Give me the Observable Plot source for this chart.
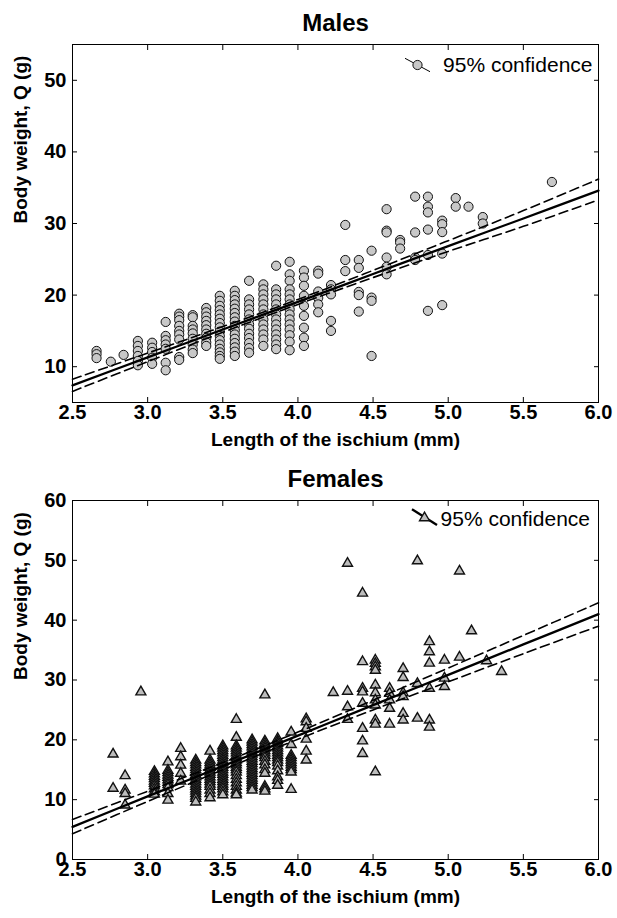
<!DOCTYPE html>
<html><head><meta charset="utf-8">
<script src="https://cdn.jsdelivr.net/npm/d3@7"></script>
<script src="https://cdn.jsdelivr.net/npm/@observablehq/plot@0.6"></script>
<style>
body{margin:0;background:#fff;width:617px;}
svg{display:block}
</style>
</head><body>
<div id="males"></div><div id="females"></div>
<script>
// ---------- data ----------
const xTicks = [2.5, 3.0, 3.5, 4.0, 4.5, 5.0, 5.5, 6.0];
const maleYTicks = [10, 20, 30, 40, 50];
const femaleYTicks = [0, 10, 20, 30, 40, 50, 60];
const maleYDomain = [5, 55];
const femaleYDomain = [0, 60];

// Males: ischium length columns and body weights at each
const maleLength = [2.66, 2.755, 2.84, 2.935, 3.03, 3.12, 3.21, 3.30, 3.39, 3.48, 3.58, 3.675, 3.77, 3.855, 3.945, 4.04, 4.135, 4.22, 4.315, 4.405, 4.49, 4.59, 4.68, 4.78, 4.865, 4.96, 5.05, 5.135, 5.23, 5.69];
const maleWeight = [
  [12.2, 11.75, 11.2],
  [10.7],
  [11.65],
  [13.6, 12.9, 12.2, 11.5, 10.8, 10.2],
  [13.35, 12.65, 12.05, 11.25, 10.4],
  [16.25, 14.3, 13.7, 13.1, 12.5, 10.55, 9.5],
  [17.4, 17.0, 16.5, 15.7, 15.0, 14.5, 13.8, 11.35, 10.95],
  [17.2, 16.9, 15.7, 15.2, 14.65, 13.9, 13.1, 12.4, 11.9],
  [18.2, 17.6, 17.0, 16.4, 15.8, 15.2, 14.6, 14.0, 13.4, 12.9],
  [19.9, 19.2, 18.5, 17.9, 17.3, 16.7, 16.1, 15.5, 14.9, 14.3, 13.7, 13.1, 12.5, 12.0, 11.5, 11.1],
  [20.6, 19.9, 19.3, 18.7, 18.1, 17.5, 16.9, 16.3, 15.7, 15.1, 14.5, 13.9, 13.3, 12.7, 12.1, 11.5],
  [22.0, 19.4, 18.7, 18.0, 17.3, 16.6, 15.9, 15.3, 14.6, 14.0, 13.3, 12.6, 11.95],
  [21.5, 20.8, 20.1, 19.4, 18.7, 18.0, 17.3, 16.6, 15.9, 15.2, 14.5, 13.8, 12.9],
  [24.1, 20.8, 20.1, 19.4, 18.7, 18.0, 17.3, 16.6, 15.9, 15.2, 14.5, 13.8, 13.1, 12.45],
  [24.65, 22.9, 22.0, 20.8, 20.1, 19.4, 18.7, 18.0, 17.3, 16.6, 15.9, 15.2, 14.4, 13.5, 12.3],
  [23.4, 22.45, 21.3, 19.9, 18.5, 17.1, 15.45, 14.05, 12.9],
  [23.4, 23.0, 20.5, 19.6, 18.7, 17.6],
  [21.4, 20.8, 20.1, 16.4, 15.0],
  [29.8, 24.9, 23.35],
  [24.9, 23.8, 20.45, 20.0, 17.7],
  [26.2, 19.65, 19.2, 11.5],
  [32.0, 29.0, 28.75, 25.25, 23.95, 22.9],
  [27.7, 27.35, 26.5],
  [33.75, 28.75, 25.25, 24.9],
  [33.75, 32.35, 31.55, 29.15, 25.6, 17.8],
  [30.4, 29.9, 28.8, 25.8, 18.6],
  [33.55, 32.35],
  [32.35],
  [30.9, 30.0],
  [35.8]
];

// Females
const femaleLength = [2.77, 2.85, 2.955, 3.045, 3.135, 3.22, 3.32, 3.415, 3.50, 3.59, 3.695, 3.78, 3.865, 3.955, 4.055, 4.235, 4.33, 4.43, 4.515, 4.61, 4.70, 4.795, 4.875, 4.975, 5.075, 5.155, 5.255, 5.355];
const femaleWeight = [
  [17.6, 11.9],
  [14.0, 11.6, 11.0, 9.1],
  [28.0],
  [14.7, 14.3, 13.9, 13.5, 13.1, 12.7, 12.3, 11.8, 11.3, 10.9],
  [16.3, 14.9, 14.5, 14.1, 13.7, 13.3, 12.9, 12.5, 12.0, 11.0, 9.9],
  [18.55, 17.15, 15.75, 14.4, 13.1],
  [16.6, 16.2, 15.8, 15.4, 15.0, 14.6, 14.2, 13.8, 13.4, 13.0, 12.6, 12.2, 11.8, 11.4, 11.0, 10.6, 10.2, 9.6],
  [18.1, 16.6, 16.2, 15.8, 15.4, 15.0, 14.6, 14.2, 13.8, 13.4, 13.0, 12.6, 12.2, 11.6, 11.0, 10.3],
  [19.0, 18.6, 18.2, 17.8, 17.4, 17.0, 16.6, 16.2, 15.8, 15.4, 15.0, 14.6, 14.2, 13.8, 13.4, 13.0, 12.6, 12.2, 11.8, 11.3, 10.8],
  [23.4, 20.4, 19.0, 18.6, 18.2, 17.8, 17.4, 17.0, 16.6, 16.2, 15.8, 15.4, 15.0, 14.6, 14.0, 13.4, 12.8, 12.2, 11.6, 11.1, 10.8],
  [20.0, 19.6, 19.2, 18.8, 18.4, 18.0, 17.6, 17.2, 16.8, 16.4, 16.0, 15.6, 15.2, 14.8, 14.4, 14.0, 13.6, 13.2, 12.8, 12.4, 12.0, 11.6],
  [27.5, 19.8, 19.4, 19.0, 18.6, 18.2, 17.8, 17.4, 17.0, 16.4, 15.8, 15.0, 14.4, 12.2, 11.8, 11.4],
  [20.2, 19.8, 19.4, 19.0, 18.6, 18.2, 17.8, 17.4, 17.0, 16.6, 16.2, 15.6, 14.8, 13.8, 13.2, 12.4],
  [21.3, 19.2, 17.4, 17.0, 16.6, 16.2, 15.8, 15.4, 15.0, 14.6, 11.7],
  [23.5, 23.0, 21.9, 20.1, 18.1, 16.6],
  [27.9],
  [49.5, 28.1, 25.5, 23.4],
  [44.5, 33.05, 28.6, 28.0, 26.1, 21.9, 19.8, 17.7],
  [33.3, 32.75, 32.2, 31.6, 29.15, 27.85, 26.65, 25.8, 23.3, 22.6, 14.65],
  [28.6, 27.75, 26.65, 25.25, 22.6],
  [31.9, 30.4, 27.85, 27.2, 24.4, 23.3],
  [49.9, 29.4, 23.6],
  [36.4, 34.7, 32.8, 28.6, 23.3, 22.1],
  [33.3, 30.3, 28.9],
  [48.2, 33.8],
  [38.2],
  [33.2],
  [31.4]
];

// Regression line and 95% confidence limits, read at these lengths
const fitLength = [2.5, 3.0, 3.5, 4.0, 4.5, 5.0, 5.5, 6.0];
const maleFit   = [7.4, 11.3, 15.2, 19.05, 22.95, 26.85, 30.7, 34.6];
const maleUpper = [8.25, 11.9, 15.6, 19.4, 23.45, 27.6, 31.8, 36.2];
const maleLower = [6.55, 10.7, 14.8, 18.7, 22.45, 26.1, 29.6, 33.3];
const femaleFit   = [5.45, 10.55, 15.6, 20.7, 25.8, 30.85, 35.95, 41.0];
const femaleUpper = [6.7, 11.4, 16.2, 21.3, 26.6, 32.0, 37.45, 42.9];
const femaleLower = [4.3, 9.7, 15.0, 20.1, 25.0, 29.7, 34.4, 39.0];

const xLabel = "Length of the ischium (mm)";
const yLabel = "Body weight, Q (g)";
const legendLabel = "95% confidence";

// ---------- drawing ----------
const font = "'Liberation Sans', Arial, Helvetica, sans-serif";
const flat = (xs, ys) => xs.flatMap((x, i) => ys[i].map(y => ({x, y})));
const series = (ys) => fitLength.map((x, i) => ({x, y: ys[i]}));

function slash(x0, y0, x1, y1) {
  return {draw(ctx) { ctx.moveTo(x0, y0); ctx.lineTo(x1, y1); }};
}

function panel(o) {
  return Plot.plot({
    width: 617, height: 459,
    marginTop: o.marginTop, marginBottom: o.marginBottom, marginLeft: 72, marginRight: 19,
    style: {fontFamily: font, background: "white", color: "black", overflow: "visible"},
    x: {domain: [2.5, 6.0]},
    y: {domain: o.yDomain},
    marks: [
      Plot.dot(o.points, {x: "x", y: "y", symbol: o.symbol, r: o.r, fill: o.fill, stroke: "#111", strokeWidth: o.sw}),
      Plot.line(series(o.fit), {x: "x", y: "y", stroke: "black", strokeWidth: 2.3, curve: "catmull-rom"}),
      Plot.line(series(o.up), {x: "x", y: "y", stroke: "black", strokeWidth: 1.6, strokeDasharray: "9,5", curve: "catmull-rom"}),
      Plot.line(series(o.lo), {x: "x", y: "y", stroke: "black", strokeWidth: 1.6, strokeDasharray: "9,5", curve: "catmull-rom"}),
      Plot.frame({stroke: "black", strokeWidth: 1}),
      Plot.axisX({ticks: xTicks, tickSize: -5, tickPadding: 7, tickFormat: d3.format(".1f"), fontSize: 20, fontWeight: "bold", label: null}),
      Plot.axisX({anchor: "top", ticks: xTicks, tickSize: -5, tickFormat: () => "", label: null}),
      Plot.axisY({ticks: o.yTicks, tickSize: -5, tickPadding: 11, fontSize: 20, fontWeight: "bold", label: null}),
      Plot.axisY({anchor: "right", ticks: o.yTicks, tickSize: -5, tickFormat: () => "", label: null}),
      Plot.text([o.title], {text: d => d, frameAnchor: "top", dy: -21, lineAnchor: "middle", fontSize: 24, fontWeight: "bold"}),
      Plot.text([xLabel], {text: d => d, frameAnchor: "bottom", dy: 37, lineAnchor: "middle", fontSize: 19, fontWeight: "bold"}),
      Plot.text([yLabel], {text: d => d, frameAnchor: "left", dx: -52, rotate: -90, lineAnchor: "middle", fontSize: 19, fontWeight: "bold"}),
      Plot.dot([0], {frameAnchor: "top-right", dx: o.legDx, dy: o.legDy, symbol: o.legLine, stroke: "black", strokeWidth: o.legWidth, fill: "none"}),
      Plot.dot([0], {frameAnchor: "top-right", dx: o.legDx, dy: o.legDy, symbol: o.symbol, r: o.r, fill: o.fill, stroke: "#111", strokeWidth: o.sw}),
      Plot.text([legendLabel], {text: d => d, frameAnchor: "top-right", dx: o.textDx, dy: o.textDy, textAnchor: "end", lineAnchor: "middle", fontSize: 21})
    ]
  });
}

document.getElementById("males").append(panel({
  title: "Males", points: flat(maleLength, maleWeight),
  fit: maleFit, up: maleUpper, lo: maleLower,
  yDomain: maleYDomain, yTicks: maleYTicks,
  symbol: "circle", r: 4.6, fill: "#c8c8c8", sw: 1,
  marginTop: 44, marginBottom: 57,
  legDx: -181, legDy: 20.5, legLine: slash(-12.5, -6.7, 12.5, 6.7), legWidth: 1,
  textDx: -6, textDy: 20.5
}));

document.getElementById("females").append(panel({
  title: "Females", points: flat(femaleLength, femaleWeight),
  fit: femaleFit, up: femaleUpper, lo: femaleLower,
  yDomain: femaleYDomain, yTicks: femaleYTicks,
  symbol: "triangle", r: 3.7, fill: "#bdbdbd", sw: 1.4,
  marginTop: 41, marginBottom: 59,
  legDx: -174, legDy: 17.3, legLine: slash(-12.5, -8.5, 12.5, 7.2), legWidth: 2.3,
  textDx: -8.5, textDy: 19
}));
</script>
</body></html>
